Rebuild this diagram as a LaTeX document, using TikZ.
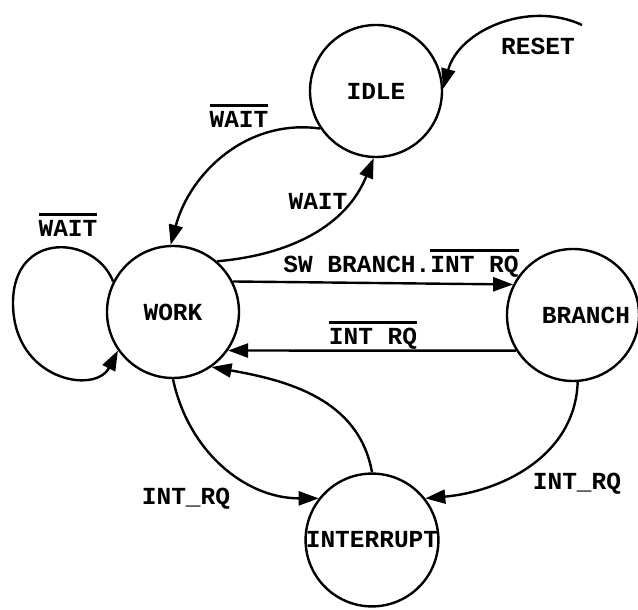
\documentclass[tikz,border=0pt]{standalone}
\usepackage{fontspec}
\setmonofont{Liberation Mono}
\usetikzlibrary{arrows.meta}
% bar over a signal name
\newcommand{\notsig}[1]{\sbox0{#1}\rlap{\raisebox{\dimexpr\ht0+5pt\relax}{\rule{\wd0}{2.4pt}}}\usebox0}

\begin{document}
\begin{tikzpicture}[x=1pt, y=1pt,
    every node/.style={font=\ttfamily\bfseries\fontsize{24.5}{29}\selectfont},
    state/.style={circle, draw, line width=2.4pt, minimum size=132pt, inner sep=0pt},
    sig/.style={anchor=base, inner sep=0pt},
    arr/.style={-{Triangle[length=20pt, width=14pt]}, line width=2.4pt}]
    \useasboundingbox (0,0) rectangle (638,610);
    % States
    \node[state] (IDLE) at (376,519) {IDLE};
    \node[state] (WORK) at (173,298) {WORK};
    \node[state] (BRANCH) at (573,295) {\hspace*{26pt}BRANCH};
    \node[state] (INTERRUPT) at (372,70) {INTERRUPT};
    \coordinate (rst) at (582,585);
    % Transitions
    \draw[arr] (rst) to[out=155, in=75] (IDLE.2);
    \draw[arr] (IDLE.214) to[out=172, in=75] (WORK.92);
    \draw[arr] (WORK.49) to[out=5, in=248] (IDLE.268);
    \draw[arr] (WORK.27) -- (BRANCH.153);
    \draw[arr] (BRANCH.212) -- (WORK.-35);
    \draw[arr] (INTERRUPT.90) to[out=100, in=-10] (WORK.-55);
    \draw[arr] (WORK.-90) to[out=-78, in=180] (INTERRUPT.142);
    \draw[arr] (BRANCH.-86) to[out=-92, in=5] (INTERRUPT.38);
    % Self loop on WORK
    \draw[arr] (WORK.153) .. controls (95,375) and (13,380) .. (13,307)
        .. controls (13,230) and (95,215) .. (WORK.215);
    % Conditions
    \node[sig] (lrst) at (538,555) {RESET};
    \node[sig] (lwi) at (239,482) {\notsig{WAIT}};
    \node[sig] (lwo) at (318,400) {WAIT};
    \node[sig] (lww) at (68,373) {\notsig{WAIT}};
    \node[sig] (lwb) at (401,337) {SW BRANCH.\notsig{INT RQ}};
    \node[sig] (lbw) at (373,265) {\notsig{INT RQ}};
    \node[sig] (lwint) at (186,105) {INT\_RQ};
    \node[sig] (lbint) at (577,120) {INT\_RQ};
\end{tikzpicture}
\end{document}
